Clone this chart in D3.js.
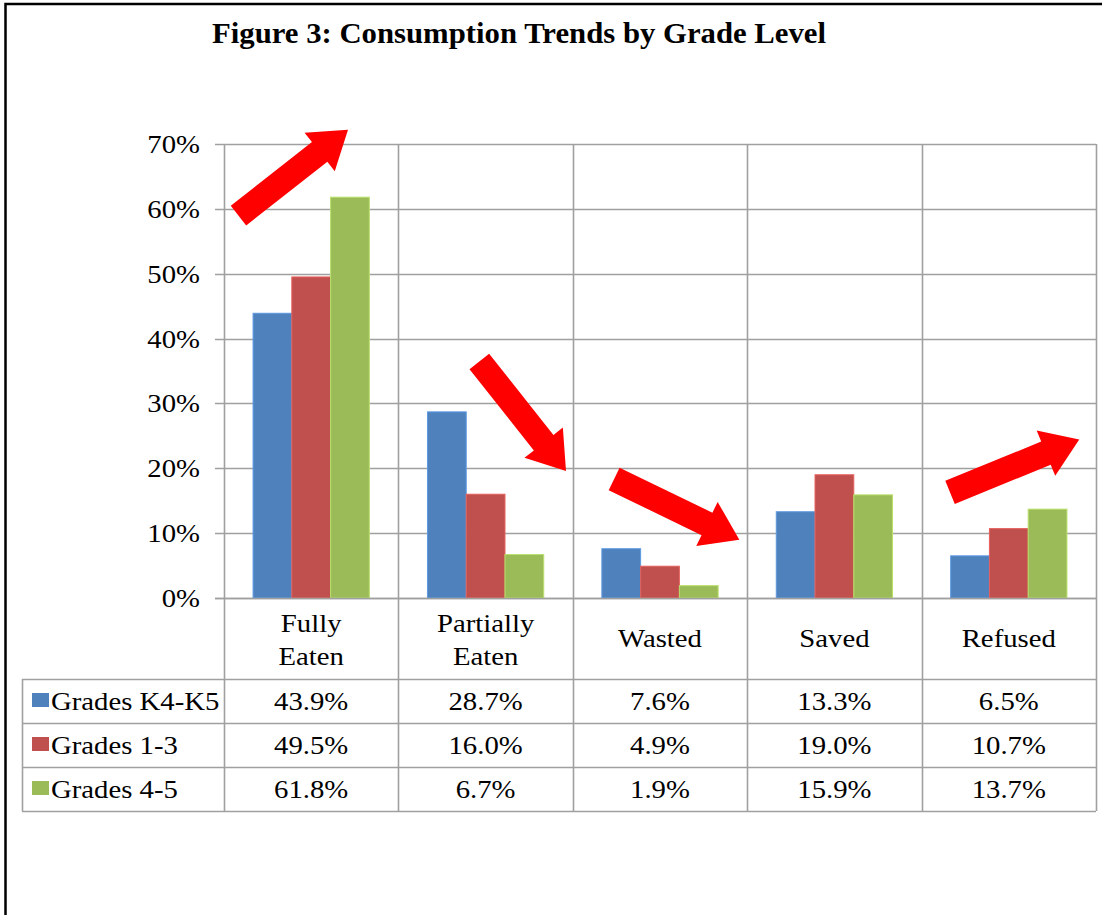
<!DOCTYPE html>
<html>
<head>
<meta charset="utf-8">
<script src="https://cdn.jsdelivr.net/npm/d3@7"></script>
<style>
    html, body { margin: 0; background: #fff; overflow: hidden; }
    svg { display: block; }
    text { font-family: "Liberation Serif", "Times New Roman", serif; fill: #000; }
</style>
</head>
<body>
<div id="chart"></div>
<script>
// chart data
const categories = ["Fully Eaten", "Partially Eaten", "Wasted", "Saved", "Refused"]
const categoryLines = [["Fully", "Eaten"], ["Partially", "Eaten"], ["Wasted"], ["Saved"], ["Refused"]]
const seriesNames = ["Grades K4-K5", "Grades 1-3", "Grades 4-5"]
const gradesK4K5 = [43.9, 28.7, 7.6, 13.3, 6.5]
const grades1to3 = [49.5, 16.0, 4.9, 19.0, 10.7]
const grades4to5 = [61.8, 6.7, 1.9, 15.9, 13.7]
const yTicks = [0, 10, 20, 30, 40, 50, 60, 70]
const colors = ["#4F81BD", "#C0504D", "#9BBB59"]

// trend arrows: [category position, value] for tail and tip
const arrows = [
    { from: [0.083, 58.97], to: [0.711, 72.2] },
    { from: [1.464, 36.48], to: [1.961, 19.6] },
    { from: [2.237, 18.36], to: [2.955, 9.0] },
    { from: [4.163, 16.28], to: [4.904, 24.44] }
]

const seriesValues = [gradesK4K5, grades1to3, grades4to5]

const W = 1102, H = 915
const plot = { left: 224, right: 1096, top: 144, bottom: 598 }
const table = { left: 22, labelBottom: 679, rowH: 44 }
const fontSize = 25, stretchX = 1.15
const gridColor = "#A0A0A0"

const svg = d3.select("#chart").append("svg")
    .attr("width", W)
    .attr("height", H)

// outer frame: only top and left edges show in the original
svg.append("path")
    .attr("d", `M${W},4 H5.5 V${H}`)
    .attr("fill", "none")
    .attr("stroke", "#000")
    .attr("stroke-width", 2.5)

// text stretched horizontally like the original
function stretchedText(g, x, y, str, anchor) {
    return g.append("text")
        .attr("transform", `translate(${x},${y}) scale(${stretchX},1)`)
        .attr("text-anchor", anchor)
        .style("font-size", fontSize + "px")
        .text(str)
}

// title
svg.append("text")
    .attr("x", 519).attr("y", 43)
    .attr("text-anchor", "middle")
    .attr("textLength", 614)
    .attr("lengthAdjust", "spacingAndGlyphs")
    .style("font-size", "29px")
    .style("font-weight", "bold")
    .text("Figure 3: Consumption Trends by Grade Level")

const x0 = d3.scaleBand()
    .domain(categories)
    .range([plot.left, plot.right])

const bandW = x0.bandwidth()
const barW = bandW / 4.5

const x1 = d3.scaleBand()
    .domain(seriesNames)
    .range([barW * 0.75, bandW - barW * 0.75])

const y = d3.scaleLinear()
    .domain([0, 70])
    .range([plot.bottom, plot.top])

const xPos = d3.scaleLinear()
    .domain([0, categories.length])
    .range([plot.left, plot.right])

// horizontal gridlines with tick marks
svg.append("g")
    .selectAll("line")
    .data(yTicks)
    .join("line")
    .attr("x1", plot.left - 9)
    .attr("x2", plot.right)
    .attr("y1", d => Math.round(y(d)) + 0.5)
    .attr("y2", d => Math.round(y(d)) + 0.5)
    .attr("stroke", gridColor)
    .attr("stroke-width", 1.6)

// y labels
const yLab = svg.append("g")
yTicks.forEach(t => {
    stretchedText(yLab, 200, y(t) + 9, d3.format(".0%")(t / 100), "end")
})

// table row positions
const rowY = seriesNames.map((s, i) => table.labelBottom + i * table.rowH)
const tableBottom = table.labelBottom + seriesNames.length * table.rowH

// vertical lines at category boundaries (plot + table)
svg.append("g")
    .selectAll("line")
    .data(d3.range(categories.length + 1))
    .join("line")
    .attr("x1", d => Math.round(xPos(d)) + 0.5)
    .attr("x2", d => Math.round(xPos(d)) + 0.5)
    .attr("y1", plot.top)
    .attr("y2", tableBottom)
    .attr("stroke", gridColor)
    .attr("stroke-width", 1.6)

// table horizontal lines
svg.append("g")
    .selectAll("line")
    .data(rowY.concat([tableBottom]))
    .join("line")
    .attr("x1", table.left)
    .attr("x2", plot.right)
    .attr("y1", d => d + 0.5)
    .attr("y2", d => d + 0.5)
    .attr("stroke", gridColor)
    .attr("stroke-width", 1.6)

svg.append("line")
    .attr("x1", table.left + 0.5).attr("x2", table.left + 0.5)
    .attr("y1", table.labelBottom).attr("y2", tableBottom)
    .attr("stroke", gridColor)
    .attr("stroke-width", 1.6)

// bars
seriesNames.forEach((s, si) => {
    svg.append("g")
        .selectAll("rect")
        .data(seriesValues[si])
        .join("rect")
        .attr("x", (d, i) => x0(categories[i]) + x1(s))
        .attr("y", d => y(d))
        .attr("width", x1.bandwidth())
        .attr("height", d => y(0) - y(d))
        .attr("fill", colors[si])
        .attr("stroke", d3.color(colors[si]).brighter(0.5))
        .attr("stroke-width", 1)
})

// redraw baseline over bars
svg.append("line")
    .attr("x1", plot.left - 9).attr("x2", plot.right)
    .attr("y1", Math.round(y(0)) + 0.5).attr("y2", Math.round(y(0)) + 0.5)
    .attr("stroke", gridColor)
    .attr("stroke-width", 1.6)

// category labels
const catLab = svg.append("g")
categoryLines.forEach((lines, i) => {
    const cx = x0(categories[i]) + bandW / 2
    if (lines.length === 2) {
        stretchedText(catLab, cx, 632, lines[0], "middle")
        stretchedText(catLab, cx, 665, lines[1], "middle")
    } else {
        stretchedText(catLab, cx, 647, lines[0], "middle")
    }
})

// table rows
const tab = svg.append("g")
seriesNames.forEach((s, si) => {
    const cy = rowY[si] + table.rowH / 2
    tab.append("rect")
        .attr("x", 32).attr("y", cy - 8)
        .attr("width", 17).attr("height", 14)
        .attr("fill", colors[si])
    stretchedText(tab, 51, cy + 9, s, "start")
    seriesValues[si].forEach((v, i) => {
        stretchedText(tab, x0(categories[i]) + bandW / 2, cy + 9, v.toFixed(1) + "%", "middle")
    })
})

// block arrows
const shaftW = 25, headW = 49, headL = 36
function arrowPoints(a) {
    const tx = xPos(a.from[0]), ty = y(a.from[1])
    const px = xPos(a.to[0]), py = y(a.to[1])
    const len = Math.hypot(px - tx, py - ty)
    const dx = (px - tx) / len, dy = (py - ty) / len
    const nx = -dy, ny = dx
    const bx = px - dx * headL, by = py - dy * headL
    return [
        [tx + nx * shaftW / 2, ty + ny * shaftW / 2],
        [bx + nx * shaftW / 2, by + ny * shaftW / 2],
        [bx + nx * headW / 2, by + ny * headW / 2],
        [px, py],
        [bx - nx * headW / 2, by - ny * headW / 2],
        [bx - nx * shaftW / 2, by - ny * shaftW / 2],
        [tx - nx * shaftW / 2, ty - ny * shaftW / 2]
    ]
}

svg.append("g")
    .selectAll("polygon")
    .data(arrows)
    .join("polygon")
    .attr("points", d => arrowPoints(d).map(p => p.join(",")).join(" "))
    .attr("fill", "#FF0000")
</script>
</body>
</html>
